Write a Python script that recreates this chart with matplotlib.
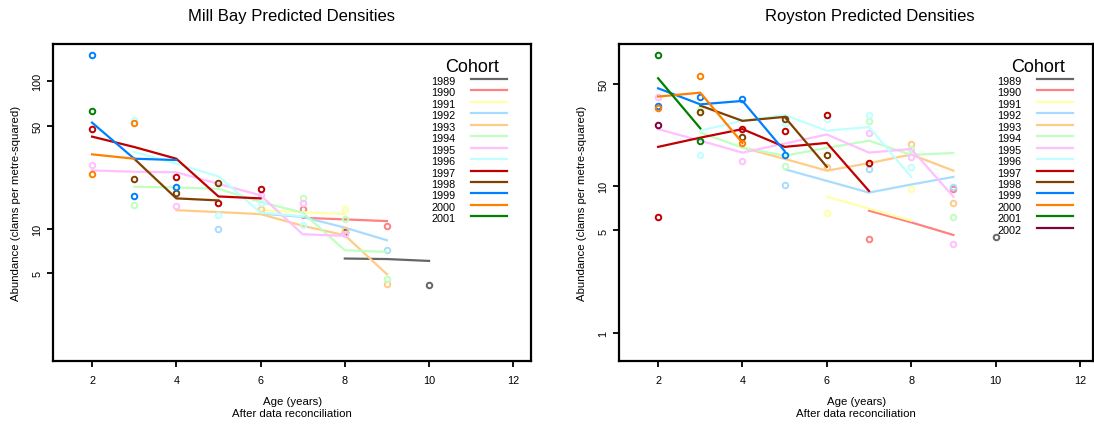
import matplotlib
matplotlib.use("Agg")
import matplotlib.pyplot as plt

plt.rcParams['font.family'] = ['Liberation Sans', 'DejaVu Sans']

cohorts = [1989, 1990, 1991, 1992, 1993, 1994, 1995,
           1996, 1997, 1998, 1999, 2000, 2001, 2002]
cohort_colors = ['#666666', '#FF8080', '#FFFFA8', '#A8DCFF', '#FFCC88',
                 '#C0FFC0', '#FFC0FF', '#C0FFFF', '#C00000', '#804000',
                 '#0080FF', '#FF8000', '#008000', '#800040']

# observed densities per cohort: (ages, clams per m^2)
millbay_obs = {
    1989: ([8, 10], [9.6, 4.2]),
    1990: ([7, 9], [13.6, 10.4]),
    1991: ([8], [13.7]),
    1992: ([5, 9], [10.05, 7.24]),
    1993: ([6, 8, 9], [13.7, 9.8, 4.26]),
    1994: ([3, 7, 8, 9], [14.6, 16.3, 11.7, 4.61]),
    1995: ([2, 4, 6, 7, 8], [27.3, 14.2, 17.1, 15.1, 9.2]),
    1996: ([3, 5, 6, 7], [54.7, 12.5, 15.1, 10.7]),
    1997: ([2, 4, 5, 6], [47.8, 22.6, 15.1, 18.7]),
    1998: ([3, 4, 5], [21.9, 17.6, 20.6]),
    1999: ([2, 3, 4], [151.6, 16.8, 19.3]),
    2000: ([2, 3], [23.4, 52.5]),
    2001: ([2], [63.3]),
}

# model predictions per cohort
millbay_fit = {
    1989: ([8, 9, 10], [6.3, 6.25, 6.07]),
    1990: ([7, 8, 9], [11.9, 11.6, 11.3]),
    1991: ([6, 7, 8], [13.4, 13.0, 12.6]),
    1992: ([6, 7, 8, 9], [12.7, 12.06, 10.2, 8.38]),
    1993: ([4, 5, 6, 7, 8, 9], [13.4, 13.0, 12.6, 10.5, 9.06, 4.93]),
    1994: ([3, 4, 5, 6, 7, 8, 9], [19.3, 19.1, 18.7, 15.2, 12.9, 7.17, 6.99]),
    1995: ([2, 3, 4, 5, 6, 7, 8], [24.9, 24.4, 24.2, 20.2, 16.9, 9.2, 8.97]),
    1996: ([3, 4, 5, 6, 7], [33.2, 27.7, 22.7, 12.9, 12.2]),
    1997: ([2, 3, 4, 5, 6], [42.2, 35.9, 29.9, 16.6, 16.1]),
    1998: ([3, 4, 5], [29.9, 16.1, 15.6]),
    1999: ([2, 3, 4], [52.5, 29.9, 29.3]),
    2000: ([2, 3], [32.0, 29.9]),
}

royston_obs = {
    1989: ([10], [4.5]),
    1990: ([7, 9], [4.38, 9.6]),
    1991: ([6, 8], [6.58, 9.6]),
    1992: ([5, 7, 9], [10.2, 13.1, 9.9]),
    1993: ([6, 8, 9], [13.6, 19.5, 7.7]),
    1994: ([3, 5, 7, 8, 9], [33.8, 13.8, 28.0, 18.0, 6.2]),
    1995: ([2, 4, 7, 8, 9], [41.0, 14.9, 23.1, 15.9, 4.05]),
    1996: ([3, 5, 6, 7, 8], [16.4, 27.1, 28.8, 30.7, 13.6]),
    1997: ([2, 4, 5, 6, 7], [6.2, 24.6, 23.9, 30.7, 14.4]),
    1998: ([3, 4, 5, 6], [32.4, 21.7, 28.8, 16.4]),
    1999: ([2, 3, 4, 5], [35.4, 40.5, 39.5, 16.4]),
    2000: ([2, 3, 4], [34.5, 56.7, 19.8]),
    2001: ([2, 3], [78.9, 20.4]),
    2002: ([2], [26.2]),
}

royston_fit = {
    1990: ([7, 8, 9], [6.83, 5.68, 4.66]),
    1991: ([6, 7, 8], [8.5, 7.05, 5.84]),
    1992: ([5, 6, 7, 8, 9], [13.1, 10.9, 9.07, 10.3, 11.6]),
    1993: ([4, 5, 6, 7, 8, 9], [18.4, 15.4, 12.8, 14.4, 16.5, 12.8]),
    1994: ([3, 4, 5, 6, 7, 8, 9], [23.3, 18.4, 16.2, 18.3, 20.5, 16.4, 16.9]),
    1995: ([2, 3, 4, 5, 6, 7, 8, 9], [24.6, 20.5, 17.0, 19.6, 22.6, 17.0, 18.0, 8.5]),
    1996: ([3, 4, 5, 6, 7, 8], [24.0, 28.1, 30.7, 24.0, 25.4, 11.6]),
    1997: ([2, 3, 4, 5, 6, 7], [18.6, 21.5, 24.6, 18.6, 19.8, 9.3]),
    1998: ([3, 4, 5, 6], [35.6, 28.0, 29.8, 13.6]),
    1999: ([2, 3, 4, 5], [46.7, 36.3, 38.3, 17.4]),
    2000: ([2, 3, 4], [41.0, 43.6, 19.8]),
    2001: ([2, 3], [54.7, 24.9]),
}

age_ticks = [2, 4, 6, 8, 10, 12]

W, H = 1094, 427
fig = plt.figure(figsize=(W / 100, H / 100), dpi=100)


def px_box(left, top, right, bottom):
    return [left / W, 1 - bottom / H, (right - left) / W, (bottom - top) / H]


def panel(box, xmax, obs, fit, title, title_x, ylim, yticks, legend_years,
          ylab_x):
    left, top, right, bottom = box
    ax = fig.add_axes(px_box(*box))
    col = dict(zip(cohorts, cohort_colors))
    for yr in cohorts:
        if yr in fit:
            ax.plot(fit[yr][0], fit[yr][1], color=col[yr], lw=1.6,
                    solid_joinstyle='miter')
        if yr in obs:
            ax.plot(obs[yr][0], obs[yr][1], ls='none', marker='o', ms=4,
                    mfc='none', mec=col[yr], mew=1.4)

    ax.set_yscale('log')
    ax.set_xlim(1.08, xmax)
    ax.set_ylim(*ylim)
    ax.set_xticks(age_ticks)
    ax.set_xticklabels([str(a) for a in age_ticks])
    ax.set_yticks(yticks)
    ax.set_yticklabels([str(t) for t in yticks], rotation=90, va='center')
    ax.minorticks_off()
    ax.tick_params(axis='x', length=4, width=1.3, pad=6, labelsize=7.8)
    ax.tick_params(axis='y', length=4, width=1.3, pad=4, labelsize=7.8)
    for s in ax.spines.values():
        s.set_linewidth(1.6)

    # legend: labels on the left, line keys on the right (offsets in px)
    wpx, hpx = right - left, bottom - top
    ax.text(418.4 / wpx, 1 - 22.7 / hpx, 'Cohort', transform=ax.transAxes,
            ha='center', va='center', fontsize=13)
    for i, yr in enumerate(legend_years):
        y = 1 - (35 + i * 11.45) / hpx
        ax.plot([417.7 / wpx, 453.4 / wpx], [y, y], transform=ax.transAxes,
                color=col[yr], lw=1.6, clip_on=False)
        ax.text(402.4 / wpx, y - 2 / hpx, str(yr), transform=ax.transAxes,
                ha='right', va='center', fontsize=7.8)

    cx = (left + right) / 2
    fig.text(title_x / W, 1 - 16 / H, title, ha='center', va='center',
             fontsize=12)
    fig.text(cx / W, 1 - 402 / H, 'Age (years)', ha='center', va='center',
             fontsize=8.2)
    fig.text(cx / W, 1 - 414 / H, 'After data reconciliation', ha='center',
             va='center', fontsize=8.2)
    fig.text(ylab_x / W, 1 - (top + bottom) / 2 / H,
             'Abundance (clams per metre-squared)', rotation=90,
             ha='center', va='center', fontsize=8.2)
    return ax


panel((53.3, 45, 531, 361.7), 12.42, millbay_obs, millbay_fit,
      'Mill Bay Predicted Densities', 292, (1.28, 179), [5, 10, 50, 100],
      cohorts[:13], 16)
panel((619.3, 45, 1093, 361.7), 12.31, royston_obs, royston_fit,
      'Royston Predicted Densities', 870, (0.646, 93.7), [1, 5, 10, 50],
      cohorts, 582)

fig.savefig('out.png', dpi=100)
